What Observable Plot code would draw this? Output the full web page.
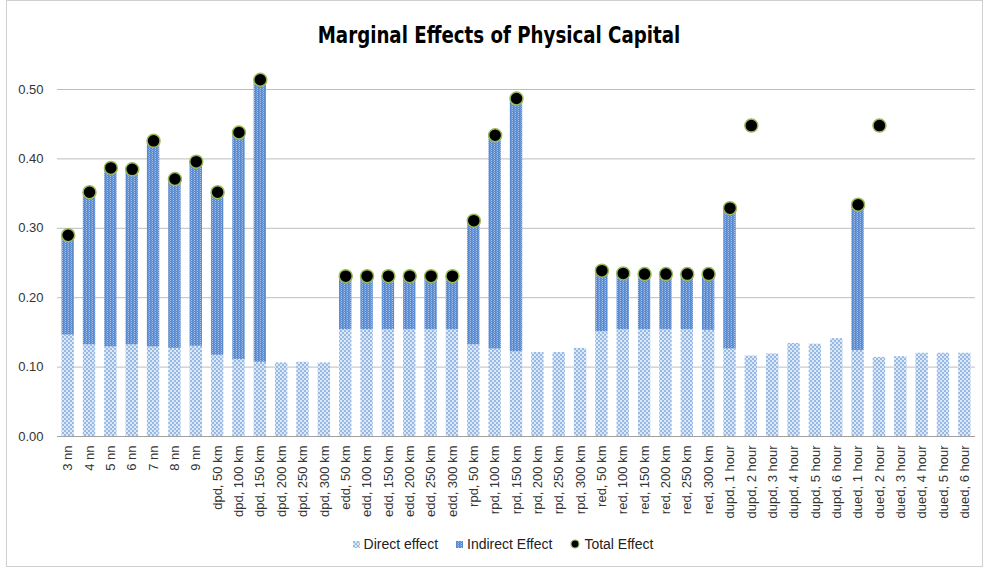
<!DOCTYPE html>
<html>
<head>
<meta charset="utf-8">
<script src="https://cdn.jsdelivr.net/npm/d3@7"></script>
<script src="https://cdn.jsdelivr.net/npm/@observablehq/plot@0.6"></script>
<style>
  html, body { margin: 0; padding: 0; background: #fff; }
  #wrap { position: relative; width: 984px; height: 568px; overflow: hidden; font-family: "Liberation Sans", Arial, sans-serif; }
  #frame { position: absolute; left: 6px; top: 0px; width: 975px; height: 565px; border: 1px solid #d0d0d0; box-sizing: content-box; }
  #title { position: absolute; left: 0; width: 998px; top: 24px; text-align: center; font-family: "Liberation Sans Narrow", "DejaVu Sans Condensed", "Liberation Sans", sans-serif; font-weight: bold; font-size: 23px; line-height: 1; color: #000; transform: scaleX(0.88); transform-origin: 499px 0; }
  #chart { position: absolute; left: 0; top: 50px; }
  #legend { position: absolute; left: 0; width: 1006px; top: 536px; display: flex; justify-content: center; align-items: center; font-size: 14px; color: #222; }
  .item { display: flex; align-items: center; margin: 0 9px; }
  .item svg { margin-right: 4px; }
</style>
</head>
<body>
<svg width="0" height="0" style="position:absolute">
  <defs>
    <pattern id="patDirect" width="4" height="4" patternUnits="userSpaceOnUse">
      <rect width="4" height="4" fill="#dde8f6"></rect>
      <rect x="0" y="0" width="2" height="2" fill="#97b9e5"></rect>
      <rect x="2" y="2" width="2" height="2" fill="#97b9e5"></rect>
    </pattern>
    <pattern id="patIndirect" width="3" height="2" patternUnits="userSpaceOnUse">
      <rect width="3" height="2" fill="#5a8bd0"></rect>
      <rect x="2" y="0" width="1" height="1" fill="#a4c0e8"></rect>
      <rect x="1" y="1" width="1" height="1" fill="#7aa3dc"></rect>
    </pattern>
  </defs>
</svg>
<div id="wrap">
  <div id="frame"></div>
  <div id="title">Marginal Effects of Physical Capital</div>
  <div id="chart"></div>
  <div id="legend">
    <div class="item"><svg width="7" height="7"><rect width="7" height="7" fill="url(#patDirect)"></rect></svg>Direct effect</div>
    <div class="item"><svg width="7" height="7"><rect width="7" height="7" fill="url(#patIndirect)"></rect></svg>Indirect Effect</div>
    <div class="item"><svg width="10" height="10"><circle cx="5" cy="5" r="4" fill="#000" stroke="#9bbb59" stroke-width="1.2"></circle></svg>Total Effect</div>
  </div>
</div>
<script>
const categories = [
  "3 nn","4 nn","5 nn","6 nn","7 nn","8 nn","9 nn",
  "dpd, 50 km","dpd, 100 km","dpd, 150 km","dpd, 200 km","dpd, 250 km","dpd, 300 km",
  "edd, 50 km","edd, 100 km","edd, 150 km","edd, 200 km","edd, 250 km","edd, 300 km",
  "rpd, 50 km","rpd, 100 km","rpd, 150 km","rpd, 200 km","rpd, 250 km","rpd, 300 km",
  "red, 50 km","red, 100 km","red, 150 km","red, 200 km","red, 250 km","red, 300 km",
  "dupd, 1 hour","dupd, 2 hour","dupd, 3 hour","dupd, 4 hour","dupd, 5 hour","dupd, 6 hour",
  "dued, 1 hour","dued, 2 hour","dued, 3 hour","dued, 4 hour","dued, 5 hour","dued, 6 hour"
];
const directEffect = [
  0.146,0.132,0.129,0.132,0.129,0.127,0.130,
  0.117,0.111,0.107,0.106,0.107,0.106,
  0.154,0.154,0.154,0.154,0.154,0.154,
  0.132,0.126,0.122,0.121,0.121,0.127,
  0.151,0.154,0.154,0.154,0.154,0.153,
  0.126,0.116,0.119,0.134,0.133,0.141,
  0.124,0.114,0.115,0.120,0.120,0.120
];
const indirectEffect = [
  0.144,0.220,0.258,0.253,0.297,0.244,0.266,
  0.235,0.327,0.407,null,null,null,
  0.077,0.077,0.077,0.077,0.077,0.077,
  0.179,0.308,0.365,null,null,null,
  0.088,0.081,0.080,0.080,0.080,0.081,
  0.203,null,null,null,null,null,
  0.210,null,null,null,null,null
];
const totalEffect = [
  0.290,0.352,0.387,0.385,0.426,0.371,0.396,
  0.352,0.438,0.514,null,null,null,
  0.231,0.231,0.231,0.231,0.231,0.231,
  0.311,0.434,0.487,null,null,null,
  0.239,0.235,0.234,0.234,0.234,0.234,
  0.329,0.448,null,null,null,null,
  0.334,0.448,null,null,null,null
];
const yTicks = [0, 0.1, 0.2, 0.3, 0.4, 0.5];

const series = ["Direct effect", "Indirect Effect"];
const barData = [];
categories.forEach((c, i) => {
  barData.push({cat: c, series: series[0], value: directEffect[i]});
  if (indirectEffect[i] != null) barData.push({cat: c, series: series[1], value: indirectEffect[i]});
});
const dotData = categories.map((c, i) => ({cat: c, value: totalEffect[i]})).filter(d => d.value != null);

const chart = Plot.plot({
  width: 984,
  height: 481,
  marginLeft: 57,
  marginRight: 9,
  marginTop: 39,
  marginBottom: 95,
  style: {fontFamily: "'Liberation Sans', Arial, sans-serif", fontSize: "13px", color: "#333", background: "transparent"},
  x: {domain: categories, paddingInner: 0.42, paddingOuter: 0.21, round: false, label: null},
  y: {domain: [0, 0.5], label: null},
  color: {domain: series, range: ["url(#patDirect)", "url(#patIndirect)"]},
  marks: [
    Plot.gridY(yTicks, {stroke: "#bdbdbd", strokeOpacity: 1, strokeWidth: 1}),
    Plot.barY(barData, {x: "cat", y: "value", fill: "series", clip: false}),
    Plot.ruleY([0], {stroke: "#a0a0a0", strokeWidth: 1}),
    Plot.axisY({ticks: yTicks, tickFormat: d3.format(".2f"), tickSize: 0, tickPadding: 14, fontSize: 13, label: null}),
    Plot.axisX({tickSize: 0, tickPadding: 9, tickRotate: -90, fontSize: 13, label: null}),
    Plot.dot(dotData, {x: "cat", y: "value", r: 6.5, fill: "#000", stroke: "#9bbb59", strokeWidth: 1.5})
  ]
});
document.getElementById("chart").appendChild(chart);
</script>
</body>
</html>
